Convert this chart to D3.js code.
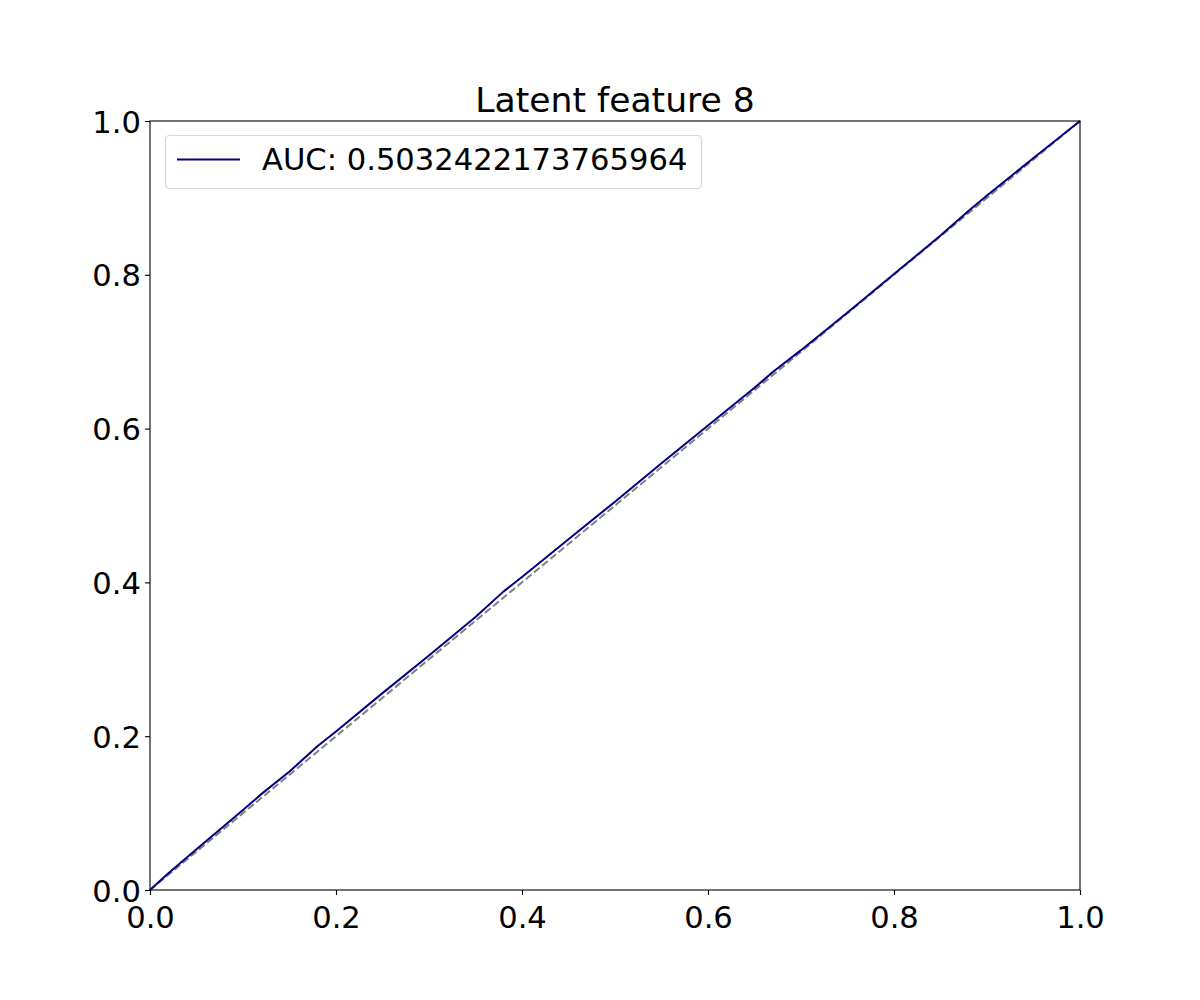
<!DOCTYPE html>
<html>
<head>
<meta charset="utf-8">
<script src="https://cdn.jsdelivr.net/npm/d3@7"></script>
<style>
  html, body { margin: 0; padding: 0; background: #fff; }
  svg { display: block; font-family: "DejaVu Sans", sans-serif; }
</style>
</head>
<body>
<svg id="chart" width="1200" height="1000"></svg>
<script>
const titleText = "Latent feature 8";
const legendLabel = "AUC: 0.5032422173765964";
const fpr = [0, 0.02, 0.05, 0.10, 0.12, 0.15, 0.18, 0.20, 0.25, 0.30, 0.35, 0.38, 0.40, 0.45, 0.50, 0.55, 0.60, 0.65, 0.67, 0.70, 0.75, 0.80, 0.85, 0.88, 0.90, 0.95, 1.0];
const tpr = [0, 0.022, 0.053, 0.104, 0.125, 0.154, 0.187, 0.206, 0.256, 0.305, 0.355, 0.388, 0.407, 0.456, 0.505, 0.555, 0.604, 0.653, 0.674, 0.702, 0.751, 0.801, 0.851, 0.883, 0.903, 0.952, 1.0];
const diagonal = [0, 1];
const xTicks = [0, 0.2, 0.4, 0.6, 0.8, 1.0];
const yTicks = [0, 0.2, 0.4, 0.6, 0.8, 1.0];

const svg = d3.select("#chart");
const L = 150, R = 1080, T = 121, B = 890;
const x = d3.scaleLinear().domain([0, 1]).range([L, R]);
const y = d3.scaleLinear().domain([0, 1]).range([B, T]);
const fs = 30.6;

// diagonal dashed
svg.append("path")
  .datum(diagonal)
  .attr("d", d3.line().x(d => x(d)).y(d => y(d)))
  .attr("fill", "none").attr("stroke", "#808080")
  .attr("stroke-width", 2).attr("stroke-dasharray", "7.4,3.2");

// ROC curve
const pts = fpr.map((f, i) => [f, tpr[i]]);
svg.append("path")
  .datum(pts)
  .attr("d", d3.line().x(d => x(d[0])).y(d => y(d[1])))
  .attr("fill", "none").attr("stroke", "#000080")
  .attr("stroke-width", 2).attr("stroke-linejoin", "round");

// axes
const xAxis = d3.axisBottom(x).tickValues(xTicks).tickFormat(d3.format(".1f")).tickSize(5).tickPadding(4);
const yAxis = d3.axisLeft(y).tickValues(yTicks).tickFormat(d3.format(".1f")).tickSize(5).tickPadding(4);
const gx = svg.append("g").attr("transform", `translate(0,${B})`).call(xAxis);
const gy = svg.append("g").attr("transform", `translate(${L},0)`).call(yAxis);
[gx, gy].forEach(g => {
  g.select(".domain").remove();
  g.selectAll(".tick line").attr("stroke", "#000").attr("stroke-width", 1.1);
  g.selectAll(".tick text").attr("fill", "#000").style("font-size", fs + "px").style("font-family", "DejaVu Sans");
});
gx.selectAll(".tick text").attr("dy", "0.95em");
gy.selectAll(".tick text").attr("dy", "0.36em");

// frame
svg.append("rect").attr("x", L).attr("y", T).attr("width", R - L).attr("height", B - T)
  .attr("fill", "none").attr("stroke", "#000").attr("stroke-width", 1.1);

// title
svg.append("text").attr("x", (L + R) / 2).attr("y", 112).attr("text-anchor", "middle")
  .style("font-size", "34.6px").attr("fill", "#000").text(titleText);

// legend
const lg = svg.append("g");
lg.append("rect").attr("x", 165.5).attr("y", 135.5).attr("width", 536).attr("height", 53).attr("rx", 4)
  .attr("fill", "#fff").attr("fill-opacity", 0.8).attr("stroke", "#d6d6d6").attr("stroke-width", 1.2);
lg.append("line").attr("x1", 177).attr("x2", 240).attr("y1", 159.5).attr("y2", 159.5)
  .attr("stroke", "#000080").attr("stroke-width", 2);
lg.append("text").attr("x", 262).attr("y", 170).style("font-size", fs + "px").attr("fill", "#000").text(legendLabel);
</script>
</body>
</html>
